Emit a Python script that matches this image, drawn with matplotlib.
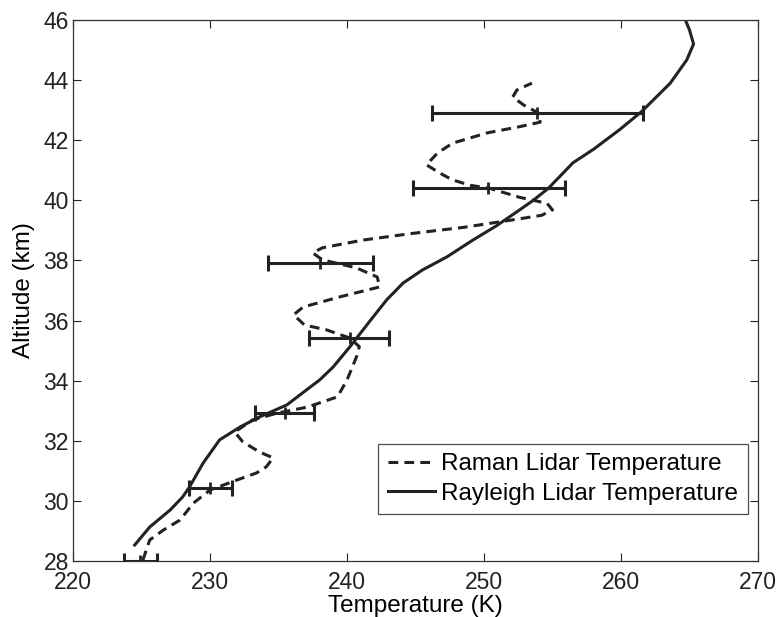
import matplotlib
matplotlib.use('Agg')
import matplotlib.pyplot as plt

plt.rcParams['font.family'] = ['Liberation Sans', 'DejaVu Sans']

# Rayleigh lidar temperature profile (K, km)
rayleigh_temp = [224.5, 225.6, 227.1, 228.0, 228.5, 229.5, 230.7, 232.2, 233.6, 235.6,
                 237.5, 238.0, 239.0, 240.2, 241.7, 242.9, 244.1, 245.5, 247.3, 249.2,
                 250.9, 252.6, 253.6, 254.7, 256.5, 258.0, 259.9, 261.5, 263.6, 264.8,
                 265.3, 265.0, 264.7]
rayleigh_alt = [28.53, 29.13, 29.7, 30.13, 30.46, 31.26, 32.03, 32.46, 32.79, 33.19,
                33.85, 34.02, 34.46, 35.12, 36.0, 36.69, 37.25, 37.68, 38.12, 38.68,
                39.15, 39.68, 40.0, 40.4, 41.25, 41.7, 42.35, 42.95, 43.9, 44.67,
                45.2, 45.67, 46.0]

# Raman lidar temperature profile (K, km)
raman_temp = [225.1, 225.6, 226.6, 227.8, 228.8, 230.0, 232.0, 233.4, 234.1, 234.6,
              233.6, 232.4, 231.8, 233.1, 234.9, 237.1, 239.3, 240.0, 240.7, 240.9,
              240.2, 238.5, 236.9, 236.1, 236.8, 239.5, 242.4, 242.2, 240.7, 238.2,
              237.5, 238.2, 241.2, 244.8, 248.5, 252.1, 254.2, 255.0, 254.6, 252.6,
              250.4, 249.0, 247.7, 246.8, 245.8, 246.6, 247.7, 250.2, 252.6, 254.1,
              254.0, 252.9, 252.1, 252.4, 253.5]
raman_alt = [28.03, 28.7, 29.03, 29.36, 29.93, 30.36, 30.7, 30.93, 31.13, 31.43,
             31.63, 31.96, 32.29, 32.69, 32.92, 33.12, 33.46, 34.02, 34.8, 35.13,
             35.42, 35.69, 35.85, 36.19, 36.45, 36.79, 37.12, 37.45, 37.75, 38.02,
             38.25, 38.42, 38.68, 38.9, 39.1, 39.35, 39.5, 39.68, 39.9, 40.1,
             40.4, 40.5, 40.68, 40.9, 41.18, 41.57, 41.9, 42.24, 42.45, 42.6,
             42.9, 43.17, 43.44, 43.67, 43.9]

# Error bars on the Raman profile
err_center = [224.9, 230.0, 235.5, 240.2, 238.0, 250.3, 253.9]
err_low = [223.7, 228.5, 233.3, 237.2, 234.2, 244.8, 246.2]
err_high = [226.1, 231.6, 237.6, 243.1, 241.9, 255.9, 261.6]
err_alt = [28.0, 30.43, 32.92, 35.42, 37.92, 40.41, 42.9]

ink = '#222222'

fig = plt.figure(figsize=(7.81, 6.17), dpi=100)
ax = fig.add_axes([0.0935, 0.0908, 0.877, 0.8768])

ax.plot(raman_temp, raman_alt, color=ink, lw=2.2, dashes=(3.2, 2.0),
        label='Raman Lidar Temperature')
ax.plot(rayleigh_temp, rayleigh_alt, color=ink, lw=2.2,
        label='Rayleigh Lidar Temperature')

xerr = [[c - l for c, l in zip(err_center, err_low)],
        [h - c for c, h in zip(err_center, err_high)]]
ax.errorbar(err_center, err_alt, xerr=xerr, fmt='none', ecolor=ink,
            elinewidth=2.2, capsize=6, capthick=2.2, zorder=3)
ax.plot(err_center, err_alt, ls='none', marker='|', ms=8, mew=2.0, color=ink)

ax.set_xlim(220, 270)
ax.set_ylim(28, 46)
ax.set_xticks(range(220, 271, 10))
ax.set_yticks(range(28, 47, 2))
ax.tick_params(direction='in', top=True, right=True, length=6, width=0.8,
               labelsize=16.5, colors='#222222')
ax.tick_params(axis='x', pad=7)
ax.tick_params(axis='y', pad=3)
for s in ax.spines.values():
    s.set_linewidth(0.9)
    s.set_color('#333333')

ax.set_xlabel('Temperature (K)', fontsize=17.5, labelpad=1)
ax.set_ylabel('Altitude (km)', fontsize=17.5, labelpad=6)

leg = ax.legend(loc='lower right', fontsize=17.5, frameon=True, fancybox=False,
                handlelength=1.95, handletextpad=0.25, borderpad=0.4,
                labelspacing=0.3, borderaxespad=0,
                bbox_to_anchor=(0.9855, 0.086))
leg.get_frame().set_edgecolor(ink)
leg.get_frame().set_linewidth(0.9)

fig.savefig('out.png', dpi=100)
